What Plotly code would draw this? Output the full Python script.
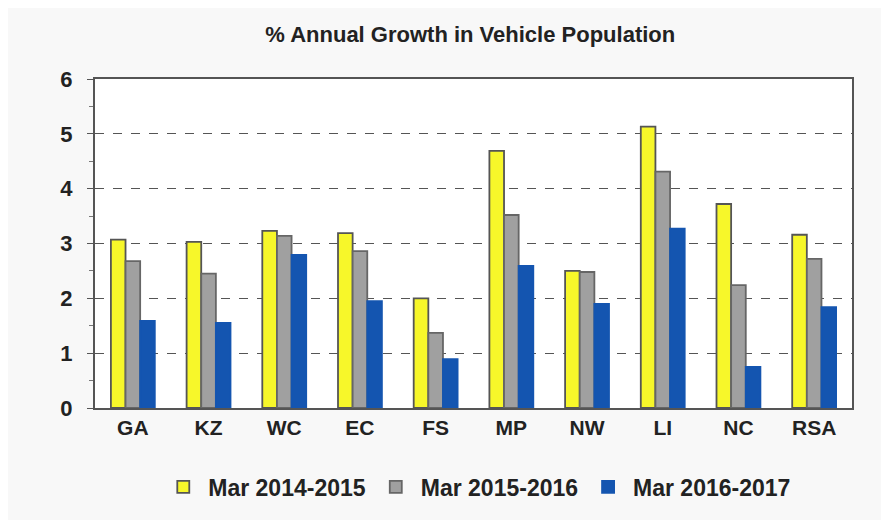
import plotly.graph_objects as go

categories = ["GA", "KZ", "WC", "EC", "FS", "MP", "NW", "LI", "NC", "RSA"]
series_names = ["Mar 2014-2015", "Mar 2015-2016", "Mar 2016-2017"]
growth_2014_2015 = [3.07, 3.03, 3.23, 3.19, 2.00, 4.69, 2.50, 5.13, 3.72, 3.16]
growth_2015_2016 = [2.68, 2.45, 3.14, 2.86, 1.37, 3.52, 2.48, 4.31, 2.24, 2.72]
growth_2016_2017 = [1.59, 1.55, 2.79, 1.95, 0.89, 2.59, 1.90, 3.27, 0.75, 1.84]
y_ticks = [0, 1, 2, 3, 4, 5, 6]

colors = ["#f7f72a", "#a0a0a0", "#1455b0"]
outlines = ["#555555", "#666666", "#1455b0"]

fig = go.Figure()
for name, vals, c, oc in zip(series_names, [growth_2014_2015, growth_2015_2016, growth_2016_2017], colors, outlines):
    fig.add_trace(go.Bar(x=categories, y=vals, name=name, marker=dict(color=c, line=dict(color=oc, width=1.8))))

fig.update_layout(
    width=889, height=520,
    barmode="group", bargap=0.42, bargroupgap=0.0,
    paper_bgcolor="#f8f8f8", plot_bgcolor="#ffffff",
    margin=dict(l=87, r=45, t=71, b=120),
    title=dict(text="% Annual Growth in Vehicle Population", x=0.52, xanchor="center", y=0.95, yanchor="middle",
               font=dict(family="Liberation Sans", size=22, color="#222222", weight="bold")),
    font=dict(family="Liberation Sans", color="#222222"),
    legend=dict(orientation="h", x=0.505, xanchor="center", y=-0.24, yanchor="middle",
                font=dict(size=23, weight="bold", color="#222222"), bgcolor="rgba(0,0,0,0)",
                itemwidth=40),
    showlegend=True,
)
fig.update_yaxes(range=[0, 6], tickvals=y_ticks, ticktext=[str(t) for t in y_ticks],
                 showgrid=True, gridcolor="#555555", griddash="dash", gridwidth=1,
                 showline=True, linecolor="#555555", linewidth=2, mirror=True,
                 ticks="outside", ticklen=6, tickcolor="#555555", ticklabelstandoff=10,
                 minor=dict(ticks="outside", ticklen=4, tickcolor="#777777", dtick=0.5, showgrid=False),
                 tickfont=dict(size=22, weight="bold", color="#222222"), zeroline=False)
fig.update_xaxes(showline=True, linecolor="#555555", linewidth=2, mirror=True,
                 tickfont=dict(size=21, weight="bold", color="#222222"), ticks="")
fig.write_html("out.html")
